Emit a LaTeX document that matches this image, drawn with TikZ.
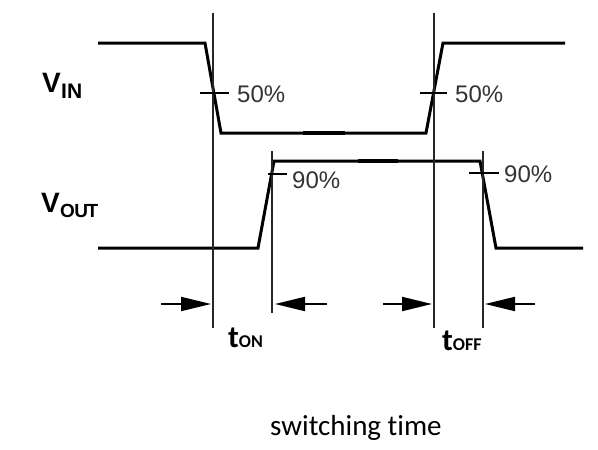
\documentclass[tikz,border=0pt]{standalone}
\usepackage{fontspec}
\setmainfont{Liberation Sans}
\newfontfamily\calib[Ligatures=NoCommon]{Carlito}
\usetikzlibrary{arrows.meta}
\tikzset{
  wave/.style={line width=3pt, line join=miter, black},
  guide/.style={line width=1.8pt, black!85},
  tick/.style={line width=1.8pt, black},
  dimarrow/.style={line width=2pt, black, -{Triangle[length=30pt,width=14pt]}},
  lbl/.style={inner sep=0pt, anchor=base west, text=black!80},
}
\begin{document}
\begin{tikzpicture}[x=1pt,y=-1pt]
\useasboundingbox (0,0) rectangle (598,450);
% key points
\coordinate (i0) at (98,43);  \coordinate (i1) at (205,43);
\coordinate (i2) at (221,133); \coordinate (i3) at (426,133);
\coordinate (i4) at (443,43); \coordinate (i5) at (565,43);
\coordinate (o0) at (98,248); \coordinate (o1) at (258,248);
\coordinate (o2) at (274,161); \coordinate (o3) at (480,161);
\coordinate (o4) at (496,248); \coordinate (o5) at (583,248);
% waveforms
\draw[wave] (i0) -- (i1) -- (i2) -- (i3) -- (i4) -- (i5);
\draw[wave] (o0) -- (o1) -- (o2) -- (o3) -- (o4) -- (o5);
\draw[line width=4.2pt] (303,133) -- (345,133);
\draw[line width=4.2pt] (358,161) -- (398,161);
% guide lines
\coordinate (g1t) at (213,13);  \coordinate (g1b) at (213,328);
\coordinate (g2t) at (272,151); \coordinate (g2b) at (272,313);
\coordinate (g3t) at (434,13);  \coordinate (g3b) at (434,328);
\coordinate (g4t) at (483,151); \coordinate (g4b) at (483,328);
\draw[guide] (g1t) -- (g1b);
\draw[guide] (g2t) -- (g2b);
\draw[guide] (g3t) -- (g3b);
\draw[guide] (g4t) -- (g4b);
% ticks
\draw[tick] (200,93) -- (229,93);
\draw[tick] (420,93) -- (447,93);
\draw[tick] (268,174) -- (287,174);
\draw[tick] (469,173) -- (499,173);
% tick labels
\node[lbl] (p1) at (237,102) {\fontsize{24}{24}\selectfont 50\%};
\node[lbl] (p2) at (455,102) {\fontsize{24}{24}\selectfont 50\%};
\node[lbl] (p3) at (292,188) {\fontsize{24}{24}\selectfont 90\%};
\node[lbl] (p4) at (504,182) {\fontsize{24}{24}\selectfont 90\%};
% signal names
\node[lbl, text=black] (vin) at (42,92) {\bfseries\fontsize{28}{28}\selectfont V};
\node[lbl, text=black] (vinsub) at (61,98) {\bfseries\fontsize{21}{21}\selectfont IN};
\node[lbl, text=black] (vout) at (41,212) {\bfseries\fontsize{28}{28}\selectfont V};
\node[lbl, text=black] (voutsub) at (60,217) {\bfseries\fontsize{19}{19}\selectfont O\kern-0.5pt U\kern-1.5pt T};
% dimension arrows
\coordinate (a1) at (161,304); \coordinate (a2) at (327,304);
\coordinate (a3) at (383,304); \coordinate (a4) at (535,304);
\draw[dimarrow] (a1) -- ([xshift=-2pt]g1b |- a1);
\draw[dimarrow] (a2) -- ([xshift=3pt]g2b |- a2);
\draw[dimarrow] (a3) -- ([xshift=-2pt]g3b |- a3);
\draw[dimarrow] (a4) -- ([xshift=2pt]g4b |- a4);
% time labels
\node[lbl, text=black] (ton) at (228,347) {\calib\bfseries\fontsize{31}{31}\selectfont t\fontsize{18}{18}\selectfont ON};
\node[lbl, text=black] (toff) at (442,350) {\calib\bfseries\fontsize{31}{31}\selectfont t\fontsize{18}{18}\selectfont OFF};
\node[lbl, text=black] (cap) at (270,435) {\calib\fontsize{29}{29}\selectfont switching time};
\end{tikzpicture}
\end{document}
